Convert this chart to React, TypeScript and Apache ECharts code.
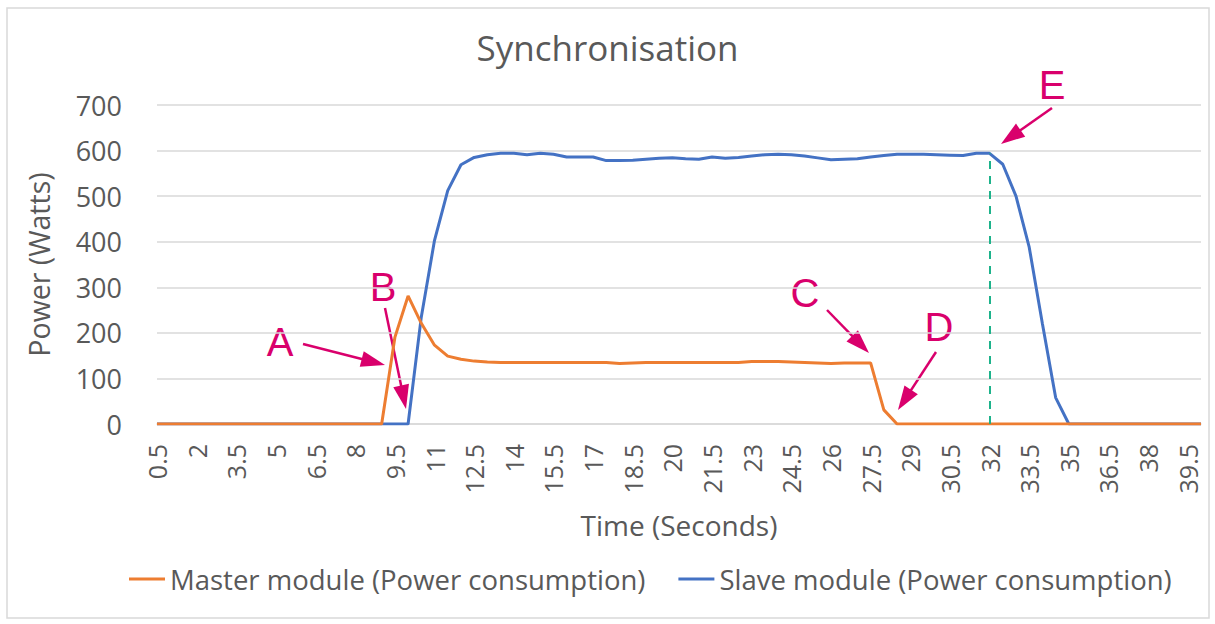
import React, { useEffect, useRef } from "react";
import * as echarts from "echarts";

const times = [
  "0.5", "1", "1.5", "2", "2.5", "3", "3.5", "4", "4.5", "5",
  "5.5", "6", "6.5", "7", "7.5", "8", "8.5", "9", "9.5", "10",
  "10.5", "11", "11.5", "12", "12.5", "13", "13.5", "14", "14.5", "15",
  "15.5", "16", "16.5", "17", "17.5", "18", "18.5", "19", "19.5", "20",
  "20.5", "21", "21.5", "22", "22.5", "23", "23.5", "24", "24.5", "25",
  "25.5", "26", "26.5", "27", "27.5", "28", "28.5", "29", "29.5", "30",
  "30.5", "31", "31.5", "32", "32.5", "33", "33.5", "34", "34.5", "35",
  "35.5", "36", "36.5", "37", "37.5", "38", "38.5", "39", "39.5", "40",
];

const master = [
  0, 0, 0, 0, 0, 0, 0, 0, 0, 0,
  0, 0, 0, 0, 0, 0, 0, 0, 190, 281,
  221, 173, 149, 142, 138, 136, 135, 135, 135, 135,
  135, 135, 135, 135, 135, 133, 134, 135, 135, 135,
  135, 135, 135, 135, 135, 137, 137, 137, 136, 135,
  134, 133, 134, 134, 134, 31, 0, 0, 0, 0,
  0, 0, 0, 0, 0, 0, 0, 0, 0, 0,
  0, 0, 0, 0, 0, 0, 0, 0, 0, 0,
];

const slave = [
  0, 0, 0, 0, 0, 0, 0, 0, 0, 0,
  0, 0, 0, 0, 0, 0, 0, 0, 0, 0,
  235, 403, 512, 569, 585, 591, 594, 594, 591, 594,
  592, 586, 586, 586, 578, 578, 579, 581, 583, 584,
  582, 581, 586, 583, 585, 588, 591, 592, 591, 588,
  584, 580, 581, 582, 586, 589, 592, 592, 592, 591,
  590, 589, 594, 594, 570, 500, 388, 220, 58, 0,
  0, 0, 0, 0, 0, 0, 0, 0, 0, 0,
];

const seriesNames = [
  "Master module (Power consumption)",
  "Slave module (Power consumption)",
];

const markerTime = "32";

// annotation letters: [label, centerX, centerY, arrowFromX, arrowFromY, arrowToX, arrowToY]
const annotations: [string, number, number, number, number, number, number][] = [
  ["A", 280, 342, 303, 344, 385, 365],
  ["B", 383, 287, 385, 308, 406, 409],
  ["C", 805, 293, 827, 310, 869, 353],
  ["D", 939, 327, 936, 352, 898, 410],
  ["E", 1052, 85, 1052, 108, 1001, 144],
];

const ACCENT = "#D9006C";
const TEXT = "#595959";
const GRID = "#D9D9D9";
const FONT = "Open Sans";

function arrowElements(x1: number, y1: number, x2: number, y2: number) {
  const dx = x2 - x1;
  const dy = y2 - y1;
  const len = Math.sqrt(dx * dx + dy * dy);
  const ux = dx / len;
  const uy = dy / len;
  const h = 24;
  const w = 8;
  const bx = x2 - ux * h;
  const by = y2 - uy * h;
  const nx = -uy;
  const ny = ux;
  return [
    {
      type: "line",
      shape: { x1, y1, x2: bx + ux * 2, y2: by + uy * 2 },
      style: { stroke: ACCENT, lineWidth: 2.5 },
      silent: true,
    },
    {
      type: "polygon",
      shape: {
        points: [
          [x2, y2],
          [bx + nx * w, by + ny * w],
          [bx - nx * w, by - ny * w],
        ],
      },
      style: { fill: ACCENT },
      silent: true,
    },
  ];
}

export default function App() {
  const ref = useRef<HTMLDivElement>(null);

  useEffect(() => {
    if (!ref.current) return;
    const chart = echarts.init(ref.current, null, { renderer: "svg" });

    const graphics: any[] = [
      {
        type: "rect",
        shape: { x: 7, y: 8, width: 1202, height: 610 },
        style: { fill: "none", stroke: GRID, lineWidth: 1.5 },
        silent: true,
        z: -10,
      },
    ];
    annotations.forEach(([label, cx, cy, ax, ay, bx, by]) => {
      graphics.push({
        type: "text",
        x: cx,
        y: cy,
        style: {
          text: label,
          fill: ACCENT,
          font: '40px "Liberation Sans", Arial, sans-serif',
          textAlign: "center",
          textVerticalAlign: "middle",
        },
        silent: true,
      });
      arrowElements(ax, ay, bx, by).forEach((g) => graphics.push(g));
    });

    const eIdx = times.indexOf(markerTime);

    chart.setOption({
      animation: false,
      textStyle: { fontFamily: FONT },
      title: {
        text: "Synchronisation",
        left: "center",
        top: 25,
        textStyle: {
          fontSize: 35,
          fontWeight: "normal",
          color: TEXT,
          fontFamily: FONT,
        },
      },
      grid: { left: 157, right: 14, top: 105, bottom: 200 },
      legend: {
        left: 124,
        top: 560,
        icon: "rect",
        itemWidth: 36,
        itemHeight: 3,
        itemGap: 33,
        data: seriesNames,
        textStyle: { fontSize: 27.5, color: TEXT, fontFamily: FONT },
      },
      xAxis: {
        type: "category",
        data: times,
        boundaryGap: false,
        axisLine: { lineStyle: { color: GRID, width: 1.5 } },
        axisTick: { show: false },
        axisLabel: {
          interval: 2,
          rotate: 90,
          fontSize: 25,
          color: TEXT,
          margin: 20,
          fontFamily: FONT,
        },
        name: "Time (Seconds)",
        nameLocation: "middle",
        nameGap: 87,
        nameTextStyle: { fontSize: 28, color: TEXT, fontFamily: FONT },
      },
      yAxis: {
        type: "value",
        min: 0,
        max: 700,
        interval: 100,
        axisLine: { show: false },
        axisTick: { show: false },
        axisLabel: {
          fontSize: 27,
          color: TEXT,
          margin: 35,
          fontFamily: FONT,
        },
        splitLine: { lineStyle: { color: GRID, width: 1.5 } },
        name: "Power (Watts)",
        nameLocation: "middle",
        nameRotate: 90,
        nameGap: 104,
        nameTextStyle: { fontSize: 28.5, color: TEXT, fontFamily: FONT },
      },
      series: [
        {
          name: seriesNames[0],
          type: "line",
          data: master,
          showSymbol: false,
          symbol: "none",
          lineStyle: { color: "#ED7D31", width: 3 },
          itemStyle: { color: "#ED7D31" },
          z: 3,
        },
        {
          name: seriesNames[1],
          type: "line",
          data: slave,
          showSymbol: false,
          symbol: "none",
          lineStyle: { color: "#4472C4", width: 3 },
          itemStyle: { color: "#4472C4" },
          z: 2,
          markLine: {
            silent: true,
            symbol: "none",
            label: { show: false },
            lineStyle: { type: [8, 7], color: "#1DB38B", width: 2 },
            data: [
              [
                { coord: [eIdx, 0] },
                { coord: [eIdx, slave[eIdx]] },
              ],
            ],
          },
        },
      ],
      graphic: graphics,
    });

    return () => chart.dispose();
  }, []);

  return (
    <div
      ref={ref}
      style={{
        position: "fixed",
        left: 0,
        top: 0,
        width: 1215,
        height: 624,
        background: "#fff",
      }}
    />
  );
}
